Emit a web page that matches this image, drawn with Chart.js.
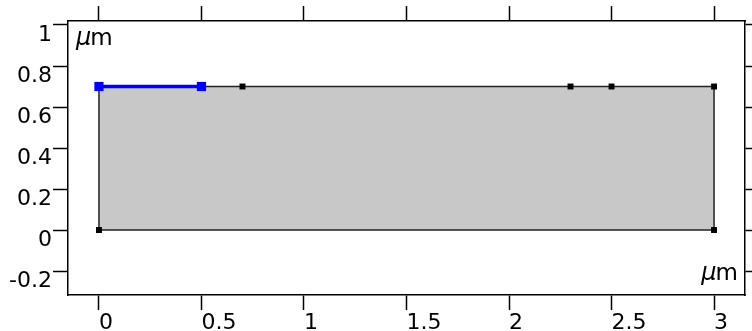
<!DOCTYPE html>
<html lang="en">
<head>
    <meta charset="UTF-8">
    <title>Geometry</title>
    <script src="https://cdn.jsdelivr.net/npm/chart.js"></script>
    <style>
        body { margin: 0; background: #fff; }
    </style>
</head>
<body>
    <canvas id="geom" width="752" height="331"></canvas>

    <script>
        // domain: rectangle 3 x 0.7 um
        var domainX = [0, 0.5, 0.7, 2.3, 2.5, 3];
        var domainTop = [0.7, 0.7, 0.7, 0.7, 0.7, 0.7];
        var outlineX = [0, 3, 3, 0, 0];
        var outlineY = [0, 0, 0.7, 0.7, 0];
        var vertexX = [0, 3, 3, 2.5, 2.3, 0.7, 0.5, 0];
        var vertexY = [0, 0, 0.7, 0.7, 0.7, 0.7, 0.7, 0.7];
        // selected boundary (blue)
        var selX = [0, 0.5];
        var selY = [0.7, 0.7];

        var xTicks = [0, 0.5, 1, 1.5, 2, 2.5, 3];
        var xLabels = ['0', '0.5', '1', '1.5', '2', '2.5', '3'];
        var yTicks = [-0.2, 0, 0.2, 0.4, 0.6, 0.8, 1];
        var yLabels = ['-0.2', '0', '0.2', '0.4', '0.6', '0.8', '1'];

        function pts(xs, ys) {
            return xs.map(function(x, i) { return {x: x, y: ys[i]}; });
        }

        var font = {family: 'DejaVu Sans', size: 22};

        function axis(opts) {
            var base = {
                type: 'linear',
                grid: {drawOnChartArea: false, drawTicks: true, tickLength: 15, tickColor: '#000', tickWidth: 1.5},
                border: {display: true, color: '#000', width: 1.5},
                ticks: {color: '#000', font: font, padding: 2}
            };
            return Object.assign(base, opts);
        }

        var xMin = -0.151, xMax = 3.151, yMin = -0.317, yMax = 1.0195;

        var unitsPlugin = {
            id: 'units',
            afterDraw: function(chart) {
                var ctx = chart.ctx, a = chart.chartArea;
                ctx.save();
                ctx.fillStyle = '#000';
                ctx.textBaseline = 'alphabetic';
                ctx.textAlign = 'left';
                function um(x, y, right) {
                    ctx.font = 'italic 24px "DejaVu Sans"';
                    var w = ctx.measureText('\u03bc').width;
                    ctx.font = '23px "DejaVu Sans"';
                    var w2 = ctx.measureText('m').width;
                    if (right) x = x - w - w2 + 1;
                    ctx.font = 'italic 24px "DejaVu Sans"';
                    ctx.fillText('\u03bc', x, y);
                    ctx.font = '23px "DejaVu Sans"';
                    ctx.fillText('m', x + w - 1, y);
                }
                um(a.left + 8, a.top + 24, false);
                um(a.right - 7, a.bottom - 15, true);
                ctx.restore();
            }
        };

        var ctx = document.getElementById('geom').getContext('2d');
        var chart = new Chart(ctx, {
            type: 'scatter',
            data: {
                datasets: [
                    {
                        data: pts(selX, selY),
                        showLine: true,
                        borderColor: '#0000ff',
                        borderWidth: 3.5,
                        pointStyle: 'rect',
                        pointRadius: 6.5,
                        pointBackgroundColor: '#0000ff',
                        pointBorderColor: '#0000ff',
                        pointBorderWidth: 0,
                        order: 1
                    },
                    {
                        data: pts(vertexX, vertexY),
                        showLine: false,
                        pointStyle: 'rect',
                        pointRadius: 4.2,
                        pointBackgroundColor: '#000',
                        pointBorderWidth: 0,
                        order: 2
                    },
                    {
                        data: pts(outlineX, outlineY),
                        showLine: true,
                        borderColor: '#222',
                        borderWidth: 1.5,
                        pointRadius: 0,
                        order: 3
                    },
                    {
                        data: pts(domainX, domainTop),
                        showLine: true,
                        borderWidth: 0,
                        borderColor: 'rgba(0,0,0,0)',
                        backgroundColor: '#c8c8c8',
                        fill: 'origin',
                        pointRadius: 0,
                        order: 4
                    }
                ]
            },
            options: {
                responsive: false,
                animation: false,
                devicePixelRatio: 1,
                layout: {padding: 0},
                plugins: {legend: {display: false}, tooltip: {enabled: false}},
                scales: {
                    x: axis({
                        position: 'bottom', min: xMin, max: xMax,
                        afterBuildTicks: function(s) { s.ticks = xTicks.map(function(v) { return {value: v}; }); },
                        afterFit: function(s) { s.height = 36; },
                        ticks: {color: '#000', font: font, padding: 0, maxRotation: 0, align: 'start',
                            callback: function(v, i) { return xLabels[i]; }}
                    }),
                    x2: axis({
                        position: 'top', min: xMin, max: xMax,
                        afterBuildTicks: function(s) { s.ticks = xTicks.map(function(v) { return {value: v}; }); },
                        afterFit: function(s) { s.height = 21; },
                        ticks: {display: false}
                    }),
                    y: axis({
                        position: 'left', min: yMin, max: yMax,
                        afterBuildTicks: function(s) { s.ticks = yTicks.map(function(v) { return {value: v}; }); },
                        afterFit: function(s) { s.width = 68; },
                        ticks: {color: '#000', font: font, padding: 1, labelOffset: 10,
                            callback: function(v, i) { return yLabels[i]; }}
                    }),
                    y2: axis({
                        position: 'right', min: yMin, max: yMax,
                        afterBuildTicks: function(s) { s.ticks = yTicks.map(function(v) { return {value: v}; }); },
                        afterFit: function(s) { s.width = 7; },
                        ticks: {display: false}
                    })
                }
            },
            plugins: [unitsPlugin]
        });
    </script>
</body>
</html>
